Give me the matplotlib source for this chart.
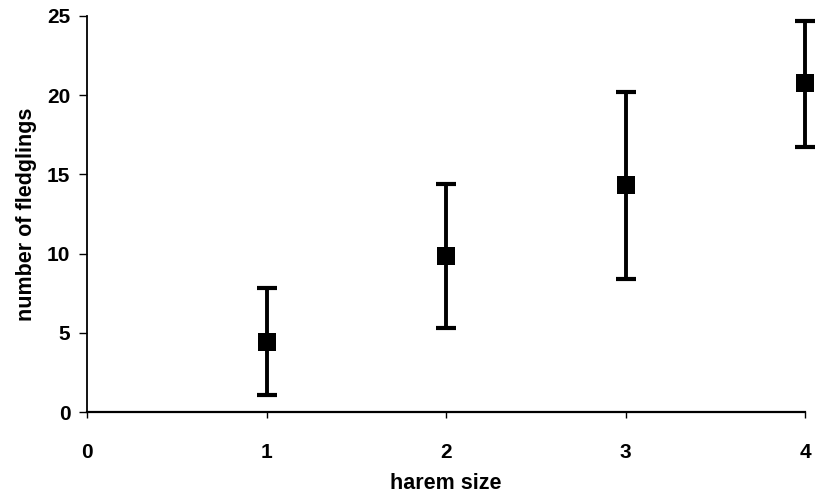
import matplotlib
matplotlib.use("Agg")
import matplotlib.pyplot as plt
import numpy as np

plt.rcParams['font.family'] = ['Liberation Sans', 'DejaVu Sans']

# Mean number of fledglings per harem size, with error bar limits
harem_size = [1, 2, 3, 4]
fledglings_mean = [4.4, 9.85, 14.3, 20.8]
fledglings_low = [1.1, 5.3, 8.4, 16.7]
fledglings_high = [7.8, 14.4, 20.2, 24.7]

x_ticks = [0, 1, 2, 3, 4]
y_ticks = [0, 5, 10, 15, 20, 25]

W, H = 815, 498
fig = plt.figure(figsize=(W / 100, H / 100), dpi=100)
ax_left, ax_bottom, ax_w, ax_h = 87 / W, 86 / H, 718 / W, 396 / H
ax = fig.add_axes([ax_left, ax_bottom, ax_w, ax_h])

mean = np.array(fledglings_mean)
yerr = np.vstack([mean - np.array(fledglings_low), np.array(fledglings_high) - mean])

eb = ax.errorbar(harem_size, mean, yerr=yerr, fmt='none', ecolor='black',
                 elinewidth=2.8, capsize=7.5, capthick=3, clip_on=False, zorder=3)
ax.plot(harem_size, mean, linestyle='none', marker='s', color='black',
        markersize=13, markeredgewidth=0, clip_on=False, zorder=4)

ax.set_xlim(0, 4)
ax.set_ylim(0, 25)
ax.set_xticks(x_ticks)
ax.set_yticks(y_ticks)
ax.set_xticklabels([str(v) for v in x_ticks], fontsize=15, fontweight='bold')
ax.set_yticklabels([str(v) for v in y_ticks], fontsize=15, fontweight='bold')

for side in ('top', 'right'):
    ax.spines[side].set_visible(False)
ax.spines['left'].set_linewidth(1.3)
ax.spines['bottom'].set_linewidth(1.6)

ax.tick_params(axis='y', direction='out', length=6, width=1, pad=6)
ax.tick_params(axis='x', direction='out', length=4, width=1, pad=18)

ax.set_xlabel('harem size', fontsize=15.5, fontweight='bold')
ax.set_ylabel('number of fledglings', fontsize=15.5, fontweight='bold')
ax.xaxis.set_label_coords(0.5, (H - 483 - 86) / 396)
ax.xaxis.label.set_va('center')
ax.yaxis.set_label_coords((27 - 87) / 718, 0.5)
ax.yaxis.label.set_va('center')

fig.savefig('out.png', dpi=100)
